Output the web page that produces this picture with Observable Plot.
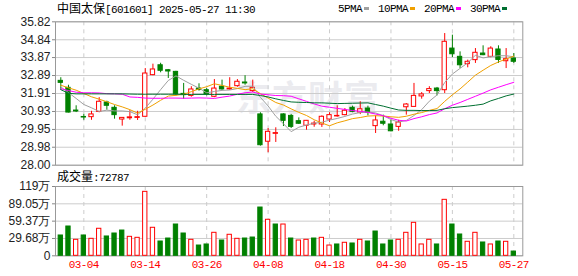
<!DOCTYPE html>
<html><head><meta charset="utf-8">
<script src="https://cdn.jsdelivr.net/npm/d3@7"></script>
<script src="https://cdn.jsdelivr.net/npm/@observablehq/plot@0.6"></script>
<style>
body{margin:0;background:#fff;}
#chart{position:relative;width:578px;height:276px;overflow:hidden;font-family:"Liberation Sans",Arial,sans-serif;}
#chart svg{position:absolute;left:0;top:0;}
.t{position:absolute;white-space:nowrap;line-height:16px;font-size:12px;color:#000;}
.cjk{font-family:"Noto Sans CJK SC";font-size:12px;}
.mono{font-family:"Liberation Mono",monospace;font-size:11px;letter-spacing:-0.6px;}
.sw{display:inline-block;width:5px;height:3px;vertical-align:2px;margin-left:2px;margin-right:9px;}
#wm{position:absolute;left:236px;top:70px;font-family:"Noto Sans CJK SC";font-weight:700;font-size:35px;color:#ebebef;letter-spacing:1px;white-space:nowrap;}
#vol g[aria-label="x-axis tick label"] text{letter-spacing:-0.6px;}
</style></head><body><div id="chart"><div id="wm">东方财富</div></div>
<script>
const stockName = "中国太保";
const stockCode = "[601601] 2025-05-27 11:30";
const volumeLabel = "成交量:72787";
const maNames = ["5PMA", "10PMA", "20PMA", "30PMA"];

const dates = ["02-27","02-28","03-03","03-04","03-05","03-06","03-07","03-10","03-11","03-12",
"03-13","03-14","03-17","03-18","03-19","03-20","03-21","03-24","03-25","03-26",
"03-27","03-28","03-31","04-01","04-02","04-03","04-07","04-08","04-09","04-10",
"04-11","04-14","04-15","04-16","04-17","04-18","04-21","04-22","04-23","04-24",
"04-25","04-28","04-29","04-30","05-06","05-07","05-08","05-09","05-12","05-13",
"05-14","05-15","05-16","05-19","05-20","05-21","05-22","05-23","05-26","05-27"];
const tickDates = ["03-04","03-14","03-26","04-08","04-18","04-30","05-15","05-27"];

const open = [32.60,32.22,30.98,30.63,30.62,30.91,31.42,31.13,30.49,30.56,
30.58,30.64,32.91,33.45,33.18,33.09,31.89,31.78,32.18,32.09,
31.73,32.28,32.13,32.31,32.51,32.04,30.77,29.28,29.71,30.77,
30.69,30.40,30.15,30.22,30.22,30.49,30.66,30.73,31.13,30.87,
31.09,30.13,30.37,30.22,30.09,31.16,31.18,31.75,32.04,32.18,
32.09,34.36,33.91,33.51,33.73,34.09,33.91,34.31,33.67,33.82];
const high = [32.77,32.36,31.24,30.78,30.94,31.68,31.49,31.24,30.58,30.98,
30.94,33.27,33.51,33.56,33.22,33.12,32.46,32.28,32.44,32.18,
32.67,32.64,32.77,32.67,32.88,32.64,30.86,30.00,30.04,30.80,
30.77,30.58,30.44,30.40,30.69,30.86,31.24,31.09,31.22,31.46,
31.22,30.69,30.73,30.44,30.45,31.36,32.46,31.96,32.28,32.24,
35.18,35.09,34.18,33.73,34.36,34.51,34.46,34.51,34.36,34.09];
const low = [32.09,30.85,30.87,30.45,30.45,30.86,31.00,30.51,30.13,30.45,
30.44,30.62,32.88,33.04,32.73,31.78,31.60,31.71,32.04,31.78,
31.68,32.09,32.09,32.25,32.36,31.96,29.04,28.68,29.24,30.11,
30.00,30.22,29.91,30.07,30.06,30.33,30.62,30.69,30.86,30.76,
30.69,29.73,30.15,29.82,29.85,30.73,31.18,31.60,31.91,31.78,
31.91,33.87,33.27,33.31,33.55,33.97,33.86,33.55,33.27,33.55];
const close = [32.49,30.87,30.93,30.60,30.77,31.46,31.24,30.73,30.58,30.61,
30.62,33.00,33.22,33.15,33.11,31.86,31.82,32.13,32.10,31.86,
32.18,32.13,32.18,32.55,32.46,32.22,29.09,29.82,29.75,30.42,
30.09,30.26,30.42,30.27,30.64,30.73,30.69,30.97,30.91,31.05,
30.86,30.44,30.26,29.85,30.33,31.31,31.78,31.86,32.15,32.04,
34.73,34.05,33.45,33.64,34.13,34.00,34.36,33.74,33.78,33.64];
// volume in 万 (10k shares)
const volume = [34.8,50.2,27.4,34.8,29.1,46.3,33.1,38.2,43.3,32.5,
30.8,109.6,48.0,24.5,29.6,53.6,38.2,27.4,17.6,19.4,
39.4,26.2,36.0,29.1,29.6,31.3,82.7,61.7,53.6,53.6,
29.6,26.2,27.4,29.6,30.8,17.6,19.4,22.3,21.1,27.4,
24.5,41.6,19.4,26.2,27.4,39.4,56.5,19.4,27.4,19.4,
95.9,53.6,36.5,24.0,39.4,22.8,19.4,24.5,24.0,7.28];

const ma5 = [32.27,31.96,31.64,31.31,31.13,30.93,31.00,30.96,30.96,30.92,
30.75,31.11,31.60,32.12,32.62,32.87,32.63,32.41,32.20,31.95,
32.02,32.08,32.10,32.18,32.30,32.31,31.70,31.23,30.67,30.26,
29.83,30.07,30.19,30.29,30.34,30.46,30.55,30.66,30.79,30.87,
30.90,30.85,30.70,30.49,30.35,30.44,30.71,31.03,31.49,31.83,
32.51,32.97,33.28,33.58,34.00,33.85,33.92,33.97,33.97,33.91];
const ma10 = [32.36,32.22,32.09,31.91,31.73,31.60,31.46,31.31,31.18,31.03,
30.84,31.05,31.28,31.54,31.77,31.81,31.87,32.01,32.16,32.28,
32.44,32.35,32.25,32.19,32.12,32.17,31.90,31.66,31.42,31.28,
31.07,30.88,30.71,30.48,30.30,30.15,30.31,30.42,30.54,30.60,
30.68,30.70,30.68,30.64,30.61,30.67,30.78,30.87,30.99,31.09,
31.48,31.84,32.16,32.53,32.91,33.18,33.44,33.63,33.79,33.95];
const ma20 = [32.17,32.07,31.98,31.95,31.95,31.94,31.90,31.89,31.87,31.72,
31.70,31.66,31.65,31.65,31.66,31.66,31.65,31.66,31.67,31.66,
31.64,31.71,31.77,31.87,31.95,31.99,31.88,31.84,31.80,31.79,
31.76,31.62,31.48,31.34,31.22,31.16,31.10,31.04,30.98,30.94,
30.88,30.79,30.70,30.56,30.45,30.41,30.54,30.64,30.76,30.85,
31.08,31.27,31.42,31.59,31.76,31.93,32.11,32.25,32.39,32.52];
const ma30 = [32.12,31.92,31.89,31.89,31.89,31.89,31.89,31.89,31.89,31.88,
31.87,31.87,31.87,31.87,31.87,31.87,31.86,31.86,31.86,31.86,
31.86,31.86,31.86,31.86,31.86,31.86,31.80,31.72,31.62,31.53,
31.45,31.43,31.42,31.40,31.40,31.38,31.36,31.37,31.38,31.39,
31.40,31.31,31.22,31.11,31.01,30.99,30.99,30.98,30.98,30.99,
31.08,31.14,31.18,31.22,31.27,31.33,31.51,31.64,31.78,31.88];

const priceTicks = [28.00,28.98,29.95,30.93,31.91,32.89,33.87,34.84,35.82];
const volTicks = [0,29.68,59.37,89.05,118.73];
const volTickLabels = ["0","29.68万","59.37万","89.05万","119万"];

// ---- styling ----
const RED = "#ff0000", GREEN = "#008000";
const maColors = ["#a0a0a0", "#f0a000", "#ff00ff", "#006f30"];
const W = 578, H = 276;
const xDomain = [-0.69, 60.17];
const ML = 55, MR = 55.7;
const halfBody = 0.28;

const rows = dates.map((d, i) => ({
  i, date: d, o: open[i], h: high[i], l: low[i], c: close[i], v: volume[i],
  up: close[i] >= open[i],
  vup: i > 0 ? close[i] > close[i - 1] : close[i] >= open[i]
}));
const tickIdx = tickDates.map(t => dates.indexOf(t));
const maSeries = [ma5, ma10, ma20, ma30];
const maRows = maSeries.flatMap((arr, k) => arr.map((v, i) => ({i, v, k})));

const common = {
  width: W, height: H, marginLeft: ML, marginRight: MR,
  style: {background: "transparent", fontFamily: "'Liberation Sans', Arial, sans-serif", fontSize: "12px", overflow: "visible"},
  color: {type: "identity"}
};

const price = Plot.plot({
  ...common,
  marginTop: 21.3, marginBottom: H - 164.7,
  x: {type: "linear", domain: xDomain, axis: null},
  y: {domain: [priceTicks[0], priceTicks[priceTicks.length - 1]], axis: null},
  marks: [
    Plot.gridY({ticks: priceTicks, stroke: "#cccccc", strokeOpacity: 1}),
    Plot.gridX({ticks: tickIdx, stroke: "#cccccc", strokeOpacity: 1, strokeDasharray: "4,4"}),
    Plot.frame({stroke: "#999999"}),
    Plot.axisY({ticks: priceTicks, tickFormat: d => d.toFixed(2), tickSize: 3, tickPadding: 2, fontSize: 12, label: null, color: "#222", stroke: "#888"}),
    Plot.ruleX(rows, {x: "i", y1: "l", y2: "h", stroke: d => d.up ? RED : GREEN, strokeWidth: 1}),
    Plot.rect(rows, {x1: d => d.i - halfBody, x2: d => d.i + halfBody, y1: "o", y2: "c",
      fill: d => d.up ? "#ffffff" : GREEN, stroke: d => d.up ? RED : GREEN, strokeWidth: 1}),
    ...maSeries.map((arr, k) => Plot.line(maRows.filter(r => r.k === k), {x: "i", y: "v", stroke: maColors[k], strokeWidth: 1}))
  ]
});

const vol = Plot.plot({
  ...common,
  marginTop: 186, marginBottom: H - 255.3,
  x: {type: "linear", domain: xDomain, axis: null},
  y: {domain: [0, volTicks[volTicks.length - 1]], axis: null},
  marks: [
    Plot.gridY({ticks: volTicks, stroke: "#cccccc", strokeOpacity: 1}),
    Plot.gridX({ticks: tickIdx, stroke: "#cccccc", strokeOpacity: 1, strokeDasharray: "4,4"}),
    Plot.frame({stroke: "#999999"}),
    Plot.axisY({ticks: volTicks, tickFormat: d => volTickLabels[volTicks.indexOf(d)], tickSize: 3, tickPadding: 2, fontSize: 12, label: null, color: "#222", stroke: "#888"}),
    Plot.axisX({ticks: tickIdx, tickFormat: i => dates[i], tickSize: 0, tickPadding: 4, label: null, color: RED, fontFamily: "'Liberation Mono', monospace", fontSize: 11}),
    Plot.rect(rows, {x1: d => d.i - halfBody, x2: d => d.i + halfBody, y1: 0, y2: "v",
      fill: d => d.vup ? "#ffffff" : GREEN, stroke: d => d.vup ? RED : GREEN, strokeWidth: 1})
  ]
});
vol.id = "vol";

const chart = document.getElementById("chart");
chart.appendChild(price);
chart.appendChild(vol);

// title
const title = document.createElement("div");
title.className = "t";
title.style.left = "57px"; title.style.top = "0px";
title.innerHTML = `<span class="cjk">${stockName}</span><span class="mono">${stockCode}</span>`;
chart.appendChild(title);

// legend
const legend = document.createElement("div");
legend.className = "t";
legend.style.left = "338px"; legend.style.top = "0px";
legend.innerHTML = maNames.map((n, k) => `<span class="mono">${n}</span><span class="sw" style="background:${maColors[k]}"></span>`).join("");
chart.appendChild(legend);

// volume label
const vl = document.createElement("div");
vl.className = "t";
vl.style.left = "57px"; vl.style.top = "168px";
vl.innerHTML = `<span class="cjk">${volumeLabel.replace(/[:0-9]+$/, "")}</span><span class="mono">${volumeLabel.match(/[:0-9]+$/)[0]}</span>`;
chart.appendChild(vl);
</script></body></html>
